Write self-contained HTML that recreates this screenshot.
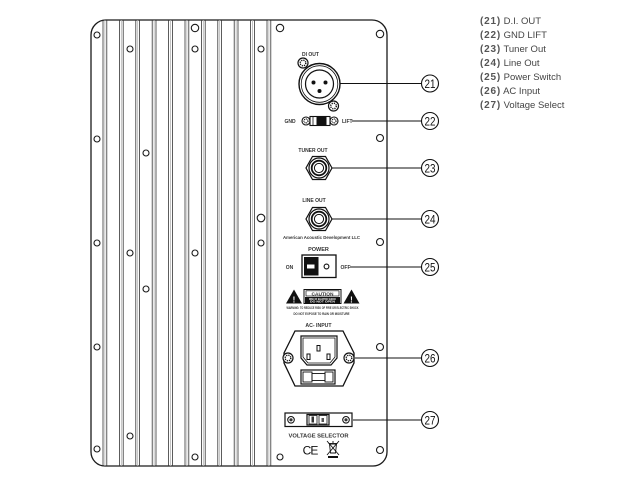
<!DOCTYPE html>
<html><head><meta charset="utf-8"><style>
html,body{margin:0;padding:0;background:#fff;}
svg{display:block;}
.t{font-family:"Liberation Sans",sans-serif;font-weight:bold;fill:#333;}
.leg{font-family:"Liberation Sans",sans-serif;font-size:9.5px;fill:#444;}
.legb{font-weight:bold;fill:#555;letter-spacing:0.8px;font-size:10px;}
.cn{font-family:"Liberation Sans",sans-serif;font-size:12px;fill:#111;}
</style></head><body>
<svg width="640" height="480" viewBox="0 0 640 480" xmlns="http://www.w3.org/2000/svg">
<rect width="640" height="480" fill="#fff"/>
<!-- panel -->
<path d="M106,20 L372,20 A15,15 0 0 1 387,35 L387,452 A14,14 0 0 1 373,466 L105,466 A14,14 0 0 1 91,452 L91,35 A15,15 0 0 1 106,20 Z" fill="#fff" stroke="#1a1a1a" stroke-width="1.3"/>
<!-- fins -->
<g>
<g id="fin">
<line x1="103" y1="20" x2="103" y2="466" stroke="#333" stroke-width="0.8"/>
<line x1="104.9" y1="20" x2="104.9" y2="466" stroke="#aaa" stroke-width="0.7"/>
<line x1="106.8" y1="20" x2="106.8" y2="466" stroke="#333" stroke-width="0.8"/>
</g>
<use href="#fin" x="16.4"/>
<use href="#fin" x="32.8"/>
<use href="#fin" x="49.2"/>
<use href="#fin" x="65.6"/>
<use href="#fin" x="82"/>
<use href="#fin" x="98.4"/>
<use href="#fin" x="114.8"/>
<use href="#fin" x="131.2"/>
<use href="#fin" x="147.6"/>
<use href="#fin" x="164"/>
</g>
<!-- holes -->
<g fill="#fff" stroke="#1a1a1a" stroke-width="1.1">
<circle cx="97" cy="35" r="3"/>
<circle cx="130" cy="49" r="3"/>
<circle cx="195" cy="28" r="3.7"/>
<circle cx="195" cy="49" r="3"/>
<circle cx="261" cy="49" r="3"/>
<circle cx="280" cy="28" r="3.7"/>
<circle cx="380" cy="34" r="3.7"/>
<circle cx="97" cy="139" r="3"/>
<circle cx="146" cy="153" r="3"/>
<circle cx="380" cy="138" r="3.5"/>
<circle cx="261" cy="218" r="3.8"/>
<circle cx="97" cy="243" r="3"/>
<circle cx="130" cy="253" r="3"/>
<circle cx="195" cy="253" r="3"/>
<circle cx="261" cy="243" r="3"/>
<circle cx="380" cy="242" r="3.5"/>
<circle cx="146" cy="289" r="3"/>
<circle cx="97" cy="347" r="3"/>
<circle cx="380" cy="347" r="3.5"/>
<circle cx="130" cy="436" r="3"/>
<circle cx="97" cy="449" r="3"/>
<circle cx="195" cy="457" r="3"/>
<circle cx="280" cy="457" r="3"/>
<circle cx="380" cy="450" r="3.5"/>
</g>

<!-- callout lines -->
<g stroke="#111" stroke-width="1.1">
<line x1="340" y1="83.5" x2="421.5" y2="83.5"/>
<line x1="352" y1="121" x2="421.5" y2="121"/>
<line x1="332" y1="168" x2="421.5" y2="168"/>
<line x1="332" y1="219" x2="421.5" y2="219"/>
<line x1="350" y1="267" x2="421.5" y2="267"/>
<line x1="355" y1="358" x2="421.5" y2="358"/>
<line x1="353" y1="420" x2="421.5" y2="420"/>
</g>
<!-- callout circles -->
<g fill="#fff" stroke="#111" stroke-width="1.1">
<circle cx="430" cy="83.5" r="8.5"/>
<circle cx="430" cy="121" r="8.5"/>
<circle cx="430" cy="168" r="8.5"/>
<circle cx="430" cy="219" r="8.5"/>
<circle cx="430" cy="267" r="8.5"/>
<circle cx="430" cy="358" r="8.5"/>
<circle cx="430" cy="420" r="8.5"/>
</g>
<g class="cn" text-anchor="middle">
<text x="430" y="87.8" textLength="11" lengthAdjust="spacingAndGlyphs">21</text>
<text x="430" y="125.3" textLength="11" lengthAdjust="spacingAndGlyphs">22</text>
<text x="430" y="172.3" textLength="11" lengthAdjust="spacingAndGlyphs">23</text>
<text x="430" y="223.3" textLength="11" lengthAdjust="spacingAndGlyphs">24</text>
<text x="430" y="271.3" textLength="11" lengthAdjust="spacingAndGlyphs">25</text>
<text x="430" y="362.3" textLength="11" lengthAdjust="spacingAndGlyphs">26</text>
<text x="430" y="424.3" textLength="11" lengthAdjust="spacingAndGlyphs">27</text>
</g>

<!-- DI OUT XLR -->
<text class="t" x="310.5" y="56" font-size="5" text-anchor="middle">DI OUT</text>
<circle cx="319.5" cy="84" r="20.5" fill="#fff" stroke="#111" stroke-width="1.4"/>
<circle cx="319.5" cy="84" r="18.3" fill="none" stroke="#111" stroke-width="0.8"/>
<circle cx="319.5" cy="84" r="14" fill="#fff" stroke="#111" stroke-width="1.2"/>
<g fill="#111">
<circle cx="313.5" cy="82.5" r="2"/>
<circle cx="325.5" cy="82.5" r="2"/>
<circle cx="319.5" cy="91" r="2"/>
</g>
<g fill="#fff" stroke="#111" stroke-width="1.2">
<circle cx="303" cy="63" r="5"/>
<circle cx="333.5" cy="106" r="5"/>
</g>
<g stroke="#111" stroke-width="1.4">
<circle cx="303" cy="63" r="2.8" fill="none" stroke-dasharray="1.2 1"/>
<circle cx="333.5" cy="106" r="2.8" fill="none" stroke-dasharray="1.2 1"/>
</g>

<!-- GND LIFT -->
<text class="t" x="290" y="123" font-size="5" text-anchor="middle">GND</text>
<text class="t" x="342" y="123" font-size="5">LIFT</text>
<g fill="#fff" stroke="#111" stroke-width="1.1">
<circle cx="306" cy="121" r="4"/>
<circle cx="334" cy="121" r="4"/>
<rect x="310" y="116.5" width="20" height="9"/>
</g>
<circle cx="306" cy="121" r="2" fill="none" stroke="#111" stroke-width="1.2" stroke-dasharray="1 0.8"/>
<circle cx="334" cy="121" r="2" fill="none" stroke="#111" stroke-width="1.2" stroke-dasharray="1 0.8"/>
<rect x="316.5" y="117" width="10" height="8" fill="#111"/>
<line x1="313" y1="117" x2="313" y2="125" stroke="#111" stroke-width="0.8"/>

<!-- TUNER OUT -->
<text class="t" x="313" y="152" font-size="5" text-anchor="middle">TUNER OUT</text>
<polygon points="332,168 325.5,156.5 312.5,156.5 306,168 312.5,179.5 325.5,179.5" fill="#fff" stroke="#111" stroke-width="1.2"/>
<circle cx="319" cy="168" r="10" fill="#fff" stroke="#111" stroke-width="1.2"/>
<circle cx="319" cy="168" r="7.3" fill="none" stroke="#111" stroke-width="1.8"/>
<circle cx="319" cy="168" r="4.6" fill="#fff" stroke="#111" stroke-width="1"/>

<!-- LINE OUT -->
<text class="t" x="314" y="202" font-size="5" text-anchor="middle">LINE OUT</text>
<polygon points="332,219 325.5,207.5 312.5,207.5 306,219 312.5,230.5 325.5,230.5" fill="#fff" stroke="#111" stroke-width="1.2"/>
<circle cx="319" cy="219" r="10" fill="#fff" stroke="#111" stroke-width="1.2"/>
<circle cx="319" cy="219" r="7.3" fill="none" stroke="#111" stroke-width="1.8"/>
<circle cx="319" cy="219" r="4.6" fill="#fff" stroke="#111" stroke-width="1"/>

<text class="t" x="321.5" y="239" font-size="4.5" text-anchor="middle" textLength="77" lengthAdjust="spacingAndGlyphs">American Acoustic Development LLC</text>

<!-- POWER -->
<text class="t" x="318.5" y="251" font-size="5.5" text-anchor="middle">POWER</text>
<text class="t" x="289.5" y="269" font-size="5" text-anchor="middle">ON</text>
<text class="t" x="345.5" y="269" font-size="5" text-anchor="middle">OFF</text>
<rect x="302" y="255" width="34" height="22.5" fill="#fff" stroke="#111" stroke-width="1.3"/>
<rect x="304" y="257" width="14.5" height="18.5" fill="#111"/>
<rect x="307" y="264.5" width="7.5" height="4" fill="#fff"/>
<circle cx="326.5" cy="266.5" r="2.4" fill="none" stroke="#111" stroke-width="1.1"/>

<!-- CAUTION -->
<polygon points="294,289.5 286,303.5 302,303.5" fill="#111"/>
<text x="294" y="302.5" font-family="Liberation Sans,sans-serif" font-weight="bold" font-size="8" fill="#fff" text-anchor="middle">!</text>
<polygon points="351.5,289.5 343.5,303.5 359.5,303.5" fill="#111"/>
<text x="351.5" y="302.5" font-family="Liberation Sans,sans-serif" font-weight="bold" font-size="8" fill="#fff" text-anchor="middle">!</text>
<rect x="304" y="289.5" width="37" height="14" fill="#fff" stroke="#111" stroke-width="1"/>
<rect x="306" y="290.8" width="33" height="5.2" fill="#fff" stroke="#111" stroke-width="0.7"/>
<text class="t" x="322.5" y="295.4" font-size="4.6" text-anchor="middle" textLength="22" lengthAdjust="spacingAndGlyphs">CAUTION</text>
<rect x="305" y="297" width="35" height="6" fill="#111"/>
<text x="322.5" y="299.8" font-family="Liberation Sans,sans-serif" font-weight="bold" font-size="2.6" fill="#fff" text-anchor="middle" textLength="27" lengthAdjust="spacingAndGlyphs">RISK OF ELECTRIC SHOCK</text>
<text x="322.5" y="302.6" font-family="Liberation Sans,sans-serif" font-weight="bold" font-size="2.6" fill="#fff" text-anchor="middle" textLength="25" lengthAdjust="spacingAndGlyphs">DO NOT OPEN</text>
<text class="t" x="322.5" y="309" font-size="3.6" text-anchor="middle" textLength="72" lengthAdjust="spacingAndGlyphs">WARNING: TO REDUCE RISK OF FIRE OR ELECTRIC SHOCK</text>
<text class="t" x="321.5" y="315" font-size="3.6" text-anchor="middle" textLength="56" lengthAdjust="spacingAndGlyphs">DO NOT EXPOSE TO RAIN OR MOISTURE</text>

<!-- AC INPUT -->
<text class="t" x="318.5" y="327" font-size="5.2" text-anchor="middle">AC- INPUT</text>
<path d="M295,331 L343,331 L354,353 L354,363 L343,386 L295,386 L284,363 L284,353 Z" fill="#fff" stroke="#111" stroke-width="1.3"/>
<path d="M301,336 L337,336 L337,358 L331,365 L307,365 L301,358 Z" fill="#fff" stroke="#111" stroke-width="1.2"/>
<path d="M303,338 L335,338 L335,357 L330,363 L308,363 L303,357 Z" fill="none" stroke="#111" stroke-width="0.8"/>
<g fill="#fff" stroke="#111" stroke-width="1">
<rect x="307" y="354" width="3" height="5.5"/>
<rect x="317" y="345.5" width="3" height="5.5"/>
<rect x="327" y="354" width="3" height="5.5"/>
</g>
<rect x="301" y="370" width="34" height="14" fill="#fff" stroke="#111" stroke-width="1.2"/>
<rect x="303" y="372" width="9" height="10" fill="none" stroke="#111" stroke-width="0.9"/>
<rect x="312" y="373.5" width="13" height="7" fill="none" stroke="#111" stroke-width="0.9"/>
<rect x="325" y="372" width="8" height="10" fill="none" stroke="#111" stroke-width="0.9"/>
<g fill="#fff" stroke="#111" stroke-width="1.2">
<circle cx="288" cy="358" r="5"/>
<circle cx="349" cy="358" r="5"/>
</g>
<circle cx="288" cy="358" r="2.8" fill="none" stroke="#111" stroke-width="1.4" stroke-dasharray="1.2 1"/>
<circle cx="349" cy="358" r="2.8" fill="none" stroke="#111" stroke-width="1.4" stroke-dasharray="1.2 1"/>

<!-- VOLTAGE SELECTOR -->
<rect x="285" y="413" width="67" height="13.5" fill="#fff" stroke="#111" stroke-width="1.2"/>
<circle cx="291" cy="419.8" r="3.3" fill="#fff" stroke="#111" stroke-width="1.1"/>
<circle cx="291" cy="419.8" r="1.6" fill="#333"/>
<circle cx="346" cy="419.8" r="3.3" fill="#fff" stroke="#111" stroke-width="1.1"/>
<circle cx="346" cy="419.8" r="1.6" fill="#333"/>
<rect x="307" y="414.5" width="22" height="10.5" fill="#fff" stroke="#111" stroke-width="1.2"/>
<rect x="309" y="415.5" width="8" height="8.5" fill="#fff" stroke="#111" stroke-width="0.8"/>
<rect x="319" y="415.5" width="8" height="8.5" fill="#fff" stroke="#111" stroke-width="0.8"/>
<rect x="311.5" y="416.5" width="2.5" height="6" fill="#333"/>
<rect x="321.5" y="418" width="2.5" height="4" fill="#555"/>
<text class="t" x="318.5" y="437.5" font-size="5.2" text-anchor="middle" textLength="60" lengthAdjust="spacingAndGlyphs">VOLTAGE SELECTOR</text>
<text x="310" y="454.5" font-family="Liberation Sans,sans-serif" font-size="12" fill="#111" text-anchor="middle" letter-spacing="-1">CE</text>
<!-- WEEE bin -->
<g stroke="#111" stroke-width="0.9" fill="none">
<path d="M329.5,444 L336.5,444 L335.5,453 L330.5,453 Z"/>
<line x1="328.5" y1="443.5" x2="337.5" y2="443.5"/>
<line x1="332" y1="442" x2="334" y2="442"/>
<line x1="327" y1="441" x2="339" y2="455"/>
<line x1="339" y1="441" x2="327" y2="455"/>
</g>
<rect x="328" y="456" width="10" height="2" fill="#111"/>

<!-- legend -->
<g class="leg">
<text x="480" y="24"><tspan class="legb">(21)</tspan> D.I. OUT</text>
<text x="480" y="38"><tspan class="legb">(22)</tspan> GND LIFT</text>
<text x="480" y="52"><tspan class="legb">(23)</tspan>  Tuner Out</text>
<text x="480" y="66"><tspan class="legb">(24)</tspan> Line Out</text>
<text x="480" y="80"><tspan class="legb">(25)</tspan> Power Switch</text>
<text x="480" y="94"><tspan class="legb">(26)</tspan>  AC Input</text>
<text x="480" y="108"><tspan class="legb">(27)</tspan> Voltage Select</text>
</g>
</svg>
</body></html>
